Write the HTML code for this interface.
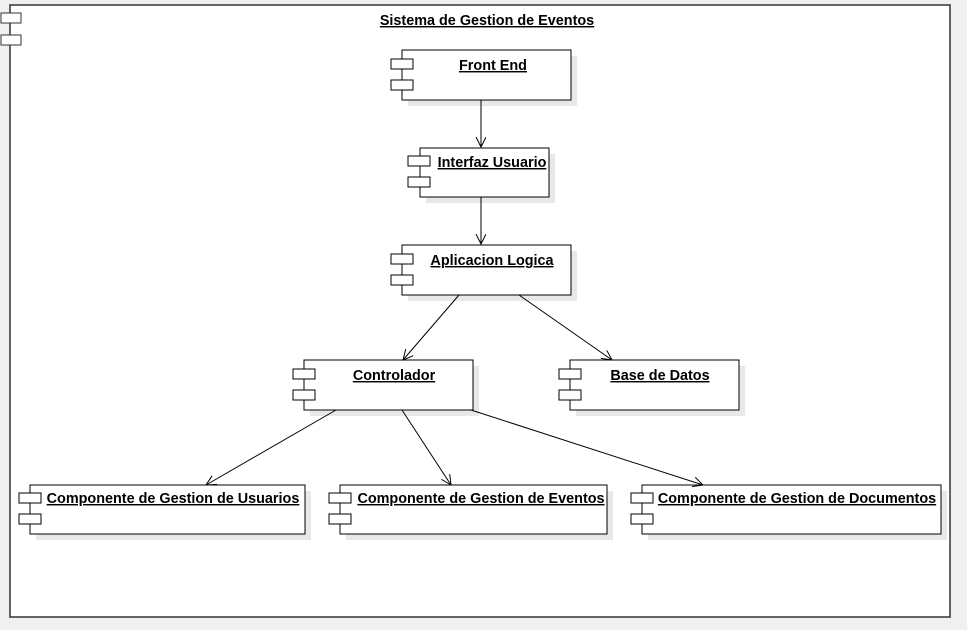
<!DOCTYPE html>
<html><head><style>
body{margin:0;width:967px;height:625px;background:#f0f0f0;overflow:hidden;}
svg text{font-family:"Liberation Sans",sans-serif;font-weight:bold;font-size:14.4px;text-decoration:underline;fill:#000;}
</style></head><body>
<svg width="967" height="625" xmlns="http://www.w3.org/2000/svg">
<defs><marker id="a" markerWidth="12" markerHeight="12" refX="10" refY="5" orient="auto" markerUnits="userSpaceOnUse"><path d="M0,0 L10,5 L0,10" fill="none" stroke="#000" stroke-width="1"/></marker></defs>
<rect x="10" y="5" width="940" height="612" fill="#fff" stroke="#333" stroke-width="1.5"/>
<rect x="1" y="13" width="20" height="10" fill="#fff" stroke="#333"/>
<rect x="1" y="35" width="20" height="10" fill="#fff" stroke="#333"/>
<text x="487" y="25" text-anchor="middle">Sistema de Gestion de Eventos</text>
<g stroke="#000" stroke-width="1">
<g fill="#e8e8e8" stroke="none">
<rect x="408" y="56" width="169" height="50"/>
<rect x="426" y="154" width="129" height="49"/>
<rect x="408" y="251" width="169" height="50"/>
<rect x="310" y="366" width="169" height="50"/>
<rect x="576" y="366" width="169" height="50"/>
<rect x="36" y="491" width="275" height="49"/>
<rect x="346" y="491" width="267" height="49"/>
<rect x="648" y="491" width="299" height="49"/>
</g>
<g fill="#fff">
<rect x="402" y="50" width="169" height="50"/><rect x="391" y="59" width="22" height="10"/><rect x="391" y="80" width="22" height="10"/>
<rect x="420" y="148" width="129" height="49"/><rect x="408" y="156" width="22" height="10"/><rect x="408" y="177" width="22" height="10"/>
<rect x="402" y="245" width="169" height="50"/><rect x="391" y="254" width="22" height="10"/><rect x="391" y="275" width="22" height="10"/>
<rect x="304" y="360" width="169" height="50"/><rect x="293" y="369" width="22" height="10"/><rect x="293" y="390" width="22" height="10"/>
<rect x="570" y="360" width="169" height="50"/><rect x="559" y="369" width="22" height="10"/><rect x="559" y="390" width="22" height="10"/>
<rect x="30" y="485" width="275" height="49"/><rect x="19" y="493" width="22" height="10"/><rect x="19" y="514" width="22" height="10"/>
<rect x="340" y="485" width="267" height="49"/><rect x="329" y="493" width="22" height="10"/><rect x="329" y="514" width="22" height="10"/>
<rect x="642" y="485" width="299" height="49"/><rect x="631" y="493" width="22" height="10"/><rect x="631" y="514" width="22" height="10"/>
</g>
<line x1="481" y1="100" x2="481" y2="147" marker-end="url(#a)"/>
<line x1="481" y1="197" x2="481" y2="244" marker-end="url(#a)"/>
<line x1="459" y1="295" x2="403" y2="360" marker-end="url(#a)"/>
<line x1="519" y1="295" x2="612" y2="360" marker-end="url(#a)"/>
<line x1="336" y1="410" x2="206" y2="485" marker-end="url(#a)"/>
<line x1="402" y1="410" x2="451" y2="485" marker-end="url(#a)"/>
<line x1="471" y1="410" x2="703" y2="485" marker-end="url(#a)"/>
</g>
<text x="493" y="70" text-anchor="middle">Front End</text>
<text x="492" y="167" text-anchor="middle">Interfaz Usuario</text>
<text x="492" y="265" text-anchor="middle">Aplicacion Logica</text>
<text x="394" y="380" text-anchor="middle">Controlador</text>
<text x="660" y="380" text-anchor="middle">Base de Datos</text>
<text x="173" y="503" text-anchor="middle">Componente de Gestion de Usuarios</text>
<text x="481" y="503" text-anchor="middle">Componente de Gestion de Eventos</text>
<text x="797" y="503" text-anchor="middle">Componente de Gestion de Documentos</text>
</svg>
</body></html>
